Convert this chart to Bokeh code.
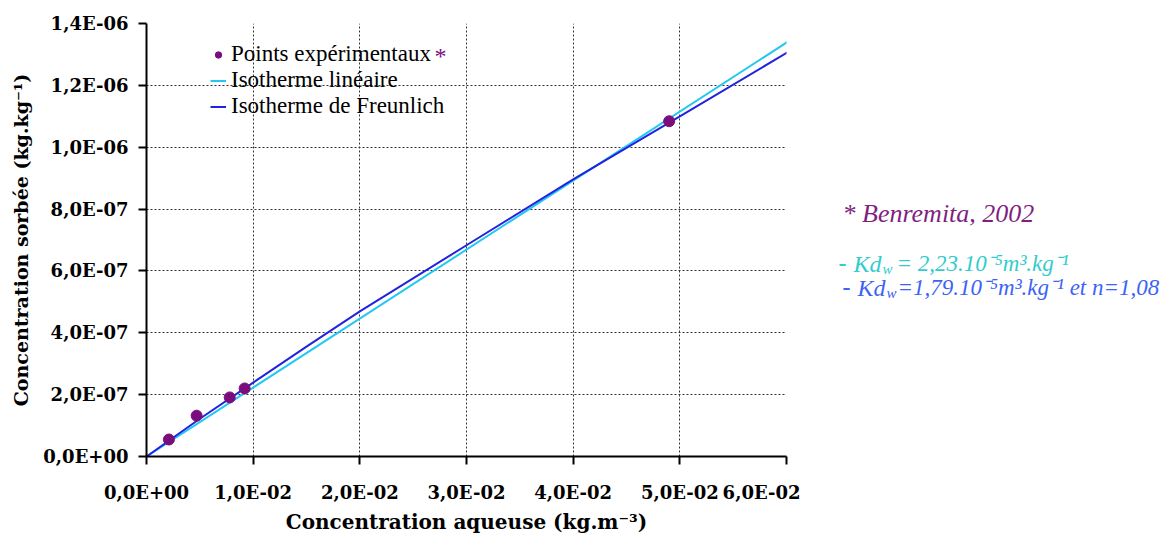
from bokeh.plotting import figure
from bokeh.models import FixedTicker, Range1d
from bokeh.layouts import row
from bokeh.core.properties import value
from bokeh.embed import file_html
from bokeh.resources import INLINE

# ---- data ----
exp_x = [0.0021, 0.0047, 0.0078, 0.0092, 0.0490]
exp_y = [5.5e-8, 1.32e-7, 1.91e-7, 2.2e-7, 1.084e-6]

lin_x = [0.0, 0.0608]
lin_y = [0.0, 1.356e-6]

fr_x = [0.0, 0.005, 0.01, 0.015, 0.02, 0.03, 0.04, 0.05, 0.0608]
fr_y = [0.0, 1.22e-7, 2.39e-7, 3.55e-7, 4.69e-7, 6.83e-7, 8.96e-7, 1.10e-6, 1.321e-6]

x_ticks = [0.0, 0.01, 0.02, 0.03, 0.04, 0.05, 0.06]
x_tick_labels = ["0,0E+00", "1,0E-02", "2,0E-02", "3,0E-02", "4,0E-02", "5,0E-02", "6,0E-02"]
y_ticks = [0.0, 2e-7, 4e-7, 6e-7, 8e-7, 1e-6, 1.2e-6, 1.4e-6]
y_tick_labels = ["0,0E+00", "2,0E-07", "4,0E-07", "6,0E-07", "8,0E-07", "1,0E-06", "1,2E-06", "1,4E-06"]

SERIF = "Liberation Serif"      # regular / italic texts
BSERIF = "DejaVu Serif"         # bold texts

H = 536
p = figure(width=800, height=H, output_backend="svg", toolbar_location=None,
           x_range=Range1d(0, 0.06), y_range=Range1d(0, 1.4e-6),
           min_border_left=146, min_border_right=14, min_border_top=23, min_border_bottom=80)
p.outline_line_color = None

p.line(lin_x, lin_y, line_color="#22C8F2", line_width=2, legend_label="Isotherme linéaire")
p.line(fr_x, fr_y, line_color="#2222E0", line_width=2, legend_label="Isotherme de Freunlich")
p.scatter(exp_x, exp_y, size=11, fill_color="#7B0C7B", line_color="#7B0C7B",
          legend_label="Points expérimentaux")

items = p.legend[0].items
p.legend[0].items = [items[2], items[0], items[1]]

leg = p.legend[0]
leg.location = (64, 337)
leg.border_line_color = None
leg.background_fill_alpha = 0
leg.label_text_font = SERIF
leg.label_text_font_size = "23px"
leg.label_text_color = "black"
leg.label_height = 23
leg.glyph_height = 23
leg.glyph_width = 16
leg.spacing = -2
leg.padding = 2
leg.margin = 0
leg.label_standoff = 5

for ax in (p.xaxis[0], p.yaxis[0]):
    ax.axis_line_width = 2
    ax.axis_line_color = "black"
    ax.major_tick_line_color = "black"
    ax.major_tick_line_width = 2
    ax.major_tick_out = 8
    ax.major_tick_in = 0
    ax.minor_tick_line_color = None
    ax.major_label_text_font = BSERIF
    ax.major_label_text_font_style = "bold"
    ax.major_label_text_font_size = "18px"
    ax.major_label_text_color = "black"
    ax.axis_label_text_font = BSERIF
    ax.axis_label_text_font_style = "bold"
    ax.axis_label_text_color = "black"

p.xaxis[0].ticker = FixedTicker(ticks=x_ticks)
p.yaxis[0].ticker = FixedTicker(ticks=y_ticks)
p.xaxis[0].major_label_overrides = {t: l for t, l in zip(x_ticks, x_tick_labels)}
p.yaxis[0].major_label_overrides = {t: l for t, l in zip(y_ticks, y_tick_labels)}
p.xaxis[0].major_label_standoff = 17
p.yaxis[0].major_label_standoff = 10
p.xaxis[0].axis_label = "Concentration aqueuse (kg.m⁻³)"
p.yaxis[0].axis_label = "Concentration sorbée (kg.kg⁻¹)"
p.xaxis[0].axis_label_text_font_size = "20px"
p.yaxis[0].axis_label_text_font_size = "19px"
p.xaxis[0].axis_label_standoff = 4
p.yaxis[0].axis_label_standoff = 8

for g in (p.xgrid[0], p.ygrid[0]):
    g.grid_line_color = "#333333"
    g.grid_line_dash = "2 2"
    g.grid_line_width = 1

# purple asterisk after the first legend entry
p.text(x=[(434 - 146) / 10670.0], y=[(456 - 55) * 1.4e-6 / 433.0], text=["*"],
       text_color="#7B0C7B", text_font=value(SERIF), text_font_size="24px",
       text_baseline="alphabetic")

# ---- side panel: frame aligned with the main frame; coordinates = page pixels ----
QW = 370
q = figure(width=QW, height=H, output_backend="svg", toolbar_location=None,
           x_range=Range1d(800, 800 + QW), y_range=Range1d(456, 23),
           x_axis_location=None, y_axis_location=None,
           min_border_left=0, min_border_right=0, min_border_top=23, min_border_bottom=80)
q.outline_line_color = None
q.grid.visible = False

PURPLE = "#7F1F7F"
TEAL = "#33CCCC"
BLUE = "#3D63F5"

def note(px, py, text, color, size, style="italic"):
    q.text(x=[px], y=[py], text=[text], text_color=color, text_font=value(SERIF),
           text_font_size=size, text_font_style=style, text_baseline="alphabetic",
           text_align="left")

note(842, 213, "* Benremita, 2002", PURPLE, "26px")
note(838, 263, "-", TEAL, "24px", "bold")
note(853, 263, "Kd", TEAL, "24px")
note(882, 268, "w", TEAL, "15px")
note(896, 263, "= 2,23.10⁻⁵m³.kg⁻¹", TEAL, "23px")
note(842, 287, "-", BLUE, "24px", "bold")
note(857, 287, "Kd", BLUE, "24px")
note(886, 292, "w", BLUE, "15px")
note(897, 287, "=1,79.10⁻⁵m³.kg⁻¹ et n=1,08", BLUE, "23px")

layout = row(p, q, spacing=0)
open("out.html", "w").write(file_html(layout, INLINE))
